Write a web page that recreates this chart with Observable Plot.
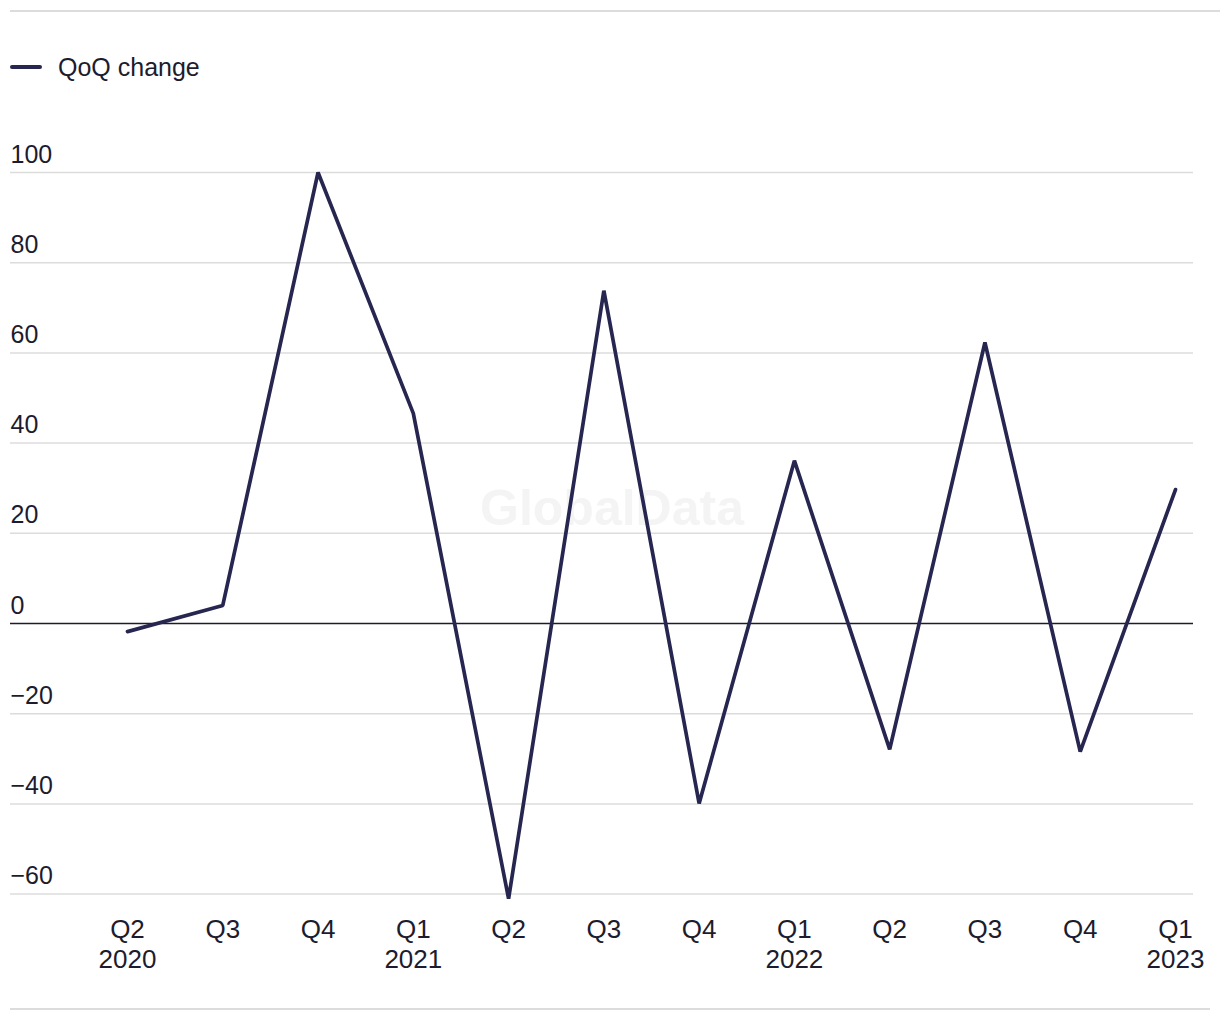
<!DOCTYPE html>
<html>
<head>
<meta charset="utf-8">
<script src="https://cdn.jsdelivr.net/npm/d3@7"></script>
<script src="https://cdn.jsdelivr.net/npm/@observablehq/plot@0.6"></script>
<style>
  html, body { margin: 0; padding: 0; background: #fff; }
  body { width: 1220px; height: 1020px; position: relative; font-family: "Liberation Sans", Arial, sans-serif; color: #1c1c2e; overflow: hidden; }
  .rule-top { position: absolute; left: 10px; top: 10px; width: 1210px; height: 0; border-top: 2px solid #dcdcdc; }
  .rule-bottom { position: absolute; left: 10px; top: 1008px; width: 1200px; height: 0; border-top: 2px solid #dcdcdc; }
  .legend { position: absolute; left: 10px; top: 50px; height: 34px; display: flex; align-items: center; font-size: 25px; }
  .legend .sw { width: 32px; height: 0; border-top: 4px solid #262650; border-radius: 2px; margin-right: 16px; }
  #chart { position: absolute; left: 0; top: 100px; }
</style>
</head>
<body>
<div class="rule-top"></div>
<div class="legend"><span class="sw"></span><span>QoQ change</span></div>
<div id="chart"></div>
<div class="rule-bottom"></div>
<script>
const quarters = ["Q2\n2020", "Q3", "Q4", "Q1\n2021", "Q2", "Q3", "Q4", "Q1\n2022", "Q2", "Q3", "Q4", "Q1\n2023"];
const qoqChange = [-1.8, 4.0, 100, 46.6, -61, 73.8, -39.9, 36.1, -27.9, 62.3, -28.4, 29.7];
const yTicks = [-60, -40, -20, 0, 20, 40, 60, 80, 100];

const data = quarters.map((q, i) => ({i, q, v: qoqChange[i]}));
const fmt = d => d < 0 ? "\u2212" + Math.abs(d) : String(d);
const lineColor = "#262650";

const plot = Plot.plot({
  width: 1220,
  height: 900,
  marginLeft: 10,
  marginRight: 27,
  marginTop: 72,
  marginBottom: 106.4,
  style: { fontFamily: "'Liberation Sans', Arial, sans-serif", color: "#1c1c2e", background: "transparent" },
  x: { type: "linear", domain: [-1.228, 11.189], axis: null },
  y: { domain: [-60, 100], axis: null },
  marks: [
    Plot.text(["GlobalData"], { frameAnchor: "middle", dx: 10, dy: -24, text: d => d, fontSize: 50, fontWeight: "bold", fill: "#f4f4f4" }),
    Plot.ruleY(yTicks.filter(d => d !== 0), { stroke: "#dcdcdc", strokeWidth: 1.5 }),
    Plot.ruleY([0], { stroke: "#1c1c2e", strokeWidth: 1.5 }),
    Plot.text(yTicks, { y: d => d, text: fmt, frameAnchor: "left", textAnchor: "start", lineAnchor: "bottom", dy: -10, fontSize: 25, fill: "#1c1c2e" }),
    Plot.line(data, { x: "i", y: "v", stroke: lineColor, strokeWidth: 3.7, strokeLinejoin: "miter" }),
    Plot.text(data, { x: "i", text: "q", frameAnchor: "bottom", lineAnchor: "top", dy: 22, lineHeight: 1.17, fontSize: 26, fill: "#1c1c2e" })
  ]
});
document.getElementById("chart").appendChild(plot);
</script>
</body>
</html>
